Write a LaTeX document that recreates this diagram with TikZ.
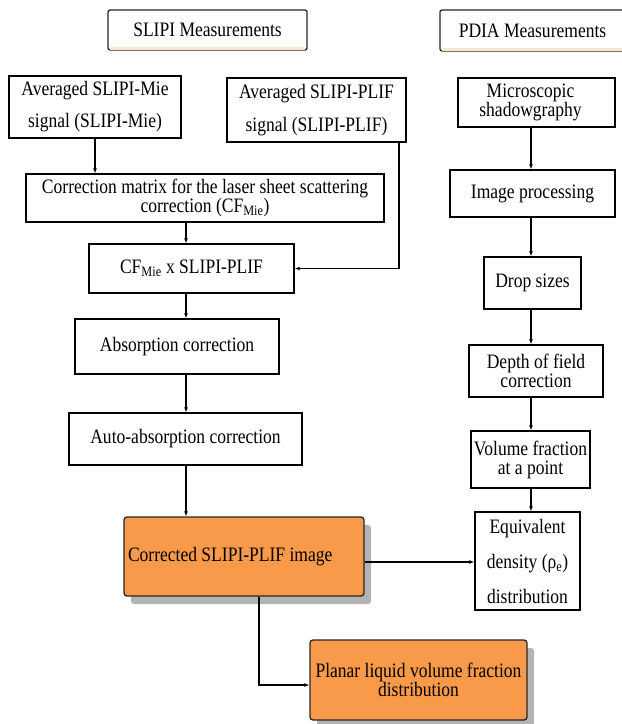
\documentclass[tikz,border=0pt]{standalone}
\usepackage{fontspec}
\setmainfont[FakeStretch=0.855]{Liberation Serif}
\usetikzlibrary{arrows.meta,shadows}
\definecolor{boxorange}{HTML}{F99A4A}
\definecolor{shadowgray}{HTML}{B3B3B3}
\definecolor{bandorange}{HTML}{FCE6CC}
\newcommand{\fs}[1]{\fontsize{20.5}{#1}\selectfont\lineskiplimit=-30pt\relax}
\begin{document}
\begin{tikzpicture}[x=1pt,y=-1pt,
  box/.style={draw=black, line width=1.3pt, fill=white, inner sep=0pt, align=center,
              font=\fs{21}},
  hbox/.style={box, rounded corners=2pt, draw=black!85},
  obox/.style={box, fill=boxorange, rounded corners=3pt, draw=black!85,
               drop shadow={shadow xshift=7pt, shadow yshift=-8pt, fill=shadowgray, opacity=1}},
  arr/.style={line width=1.2pt, -{Latex[length=5pt,width=4pt]}},
  band/.style={fill=bandorange}]
\useasboundingbox (0,0) rectangle (622,724);

% headers
\node[hbox, minimum width=199pt, minimum height=40pt] (slipi) at (207.5,30) {SLIPI Measurements};
\node[hbox, minimum width=185pt, minimum height=41pt] (pdia) at (532.5,30.5) {PDIA Measurements};
\fill[band] ([shift={(3pt,1pt)}]slipi.south west) rectangle ([shift={(-3pt,4pt)}]slipi.south east);
\fill[band] ([shift={(3pt,1pt)}]pdia.south west) rectangle ([shift={(-3pt,4pt)}]pdia.south east);

% left column
\node[box, minimum width=172pt, minimum height=62pt, font=\fs{32}] (mie) at (95,107)
  {Averaged SLIPI-Mie\\signal (SLIPI-Mie)};
\node[box, minimum width=179pt, minimum height=64pt, font=\fs{33}] (plif) at (316.5,110)
  {Averaged SLIPI-PLIF\\signal (SLIPI-PLIF)};
\node[box, minimum width=358pt, minimum height=48pt, font=\fs{19.5}] (corr) at (205,198)
  {Correction matrix for the laser sheet scattering\\correction (CF\textsubscript{Mie})};
\node[box, minimum width=205pt, minimum height=49pt] (cf) at (191.5,268.5)
  {CF\textsubscript{Mie} x SLIPI-PLIF};
\node[box, minimum width=204pt, minimum height=55pt] (absorp) at (177,346.5)
  {Absorption correction};
\node[box, minimum width=233pt, minimum height=52pt] (auto) at (185.5,439)
  {Auto-absorption correction};
\node[obox, minimum width=240pt, minimum height=79pt] (corrected) at (244,556.5)
  {\raisebox{-5pt}{\makebox[232pt][l]{Corrected SLIPI-PLIF image}}};
\node[obox, minimum width=217pt, minimum height=80pt, font=\fs{17.5}] (planar) at (418.5,680)
  {\raisebox{-4pt}{\parbox{214pt}{\centering Planar liquid volume fraction\\distribution}}};

% right column
\node[box, minimum width=157pt, minimum height=49pt, font=\fs{17.5}] (micro) at (536.5,102.5)
  {\hspace*{-12pt}\parbox{120pt}{\centering Microscopic\\shadowgraphy}};
\node[box, minimum width=165pt, minimum height=47pt] (imgproc) at (532.5,193.5)
  {Image processing};
\node[box, minimum width=97pt, minimum height=52pt] (drop) at (532.5,283)
  {Drop sizes};
\node[box, minimum width=134pt, minimum height=52pt, font=\fs{19}] (depth) at (536,371)
  {Depth of field\\correction};
\node[box, minimum width=119pt, minimum height=57pt, font=\fs{19}] (vol) at (530.5,459.5)
  {Volume fraction\\at a point};
\node[box, minimum width=105pt, minimum height=98pt, font=\fs{35}] (equiv) at (527.5,561)
  {Equivalent\\density (ρ\textsubscript{e})\\distribution};

% guide coordinates
\coordinate (lx) at (186,0);
\coordinate (px) at (399,0);
\coordinate (rx) at (531,0);
\coordinate (cy) at (0,562);
\coordinate (dx) at (259,0);
\coordinate (py) at (0,685);

% connectors left
\draw[arr] (mie.south) -- (corr.north -| mie.south);
\draw[arr] (corr.south -| lx) -- (cf.north -| lx);
\draw[arr] (plif.south -| px) |- (cf.east);
\draw[arr] (cf.south -| lx) -- (absorp.north -| lx);
\draw[arr] (absorp.south -| lx) -- (auto.north -| lx);
\draw[arr] (auto.south -| lx) -- (corrected.north -| lx);
\draw[arr] (corrected.east |- cy) -- (equiv.west |- cy);
\draw[arr] (corrected.south -| dx) |- (planar.west |- py);

% connectors right
\draw[arr] (micro.south -| rx) -- (imgproc.north -| rx);
\draw[arr] (imgproc.south -| rx) -- (drop.north -| rx);
\draw[arr] (drop.south -| rx) -- (depth.north -| rx);
\draw[arr] (depth.south -| rx) -- (vol.north -| rx);
\draw[arr] (vol.south -| rx) -- (equiv.north -| rx);
\end{tikzpicture}
\end{document}
